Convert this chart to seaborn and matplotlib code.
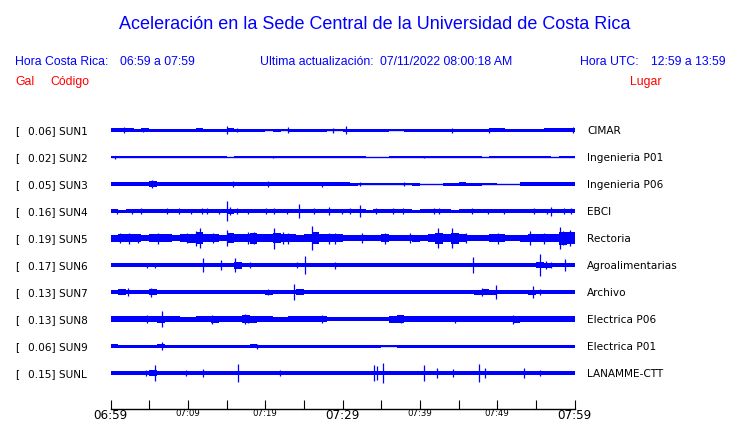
import numpy as np
import pandas as pd
import matplotlib
matplotlib.use("Agg")
import matplotlib.pyplot as plt
import seaborn as sns

# ---------------- data ----------------
codes = ["SUN1", "SUN2", "SUN3", "SUN4", "SUN5", "SUN6", "SUN7", "SUN8", "SUN9", "SUNL"]
gals = [0.06, 0.02, 0.05, 0.16, 0.19, 0.17, 0.13, 0.13, 0.06, 0.15]
places = ["CIMAR", "Ingenieria P01", "Ingenieria P06", "EBCI", "Rectoria",
          "Agroalimentarias", "Archivo", "Electrica P06", "Electrica P01", "LANAMME-CTT"]
tick_minutes = [0, 5, 10, 15, 20, 25, 30, 35, 40, 45, 50, 55, 60]
tick_labels = ["06:59", "", "07:09", "", "07:19", "", "07:29", "", "07:39", "", "07:49", "", "07:59"]
big_labels = ["06:59", "07:29", "07:59"]

# per-minute half amplitude of each trace envelope (screen px)
env_sun1 = [2.0,2.0,1.6,1.5,1.6,1.5,1.5,1.5,1.5,1.5, 1.5,1.6,1.5,1.5,1.5,1.6,1.5,1.5,1.5,1.5,
            1.4,1.5,1.2,1.5,1.5,1.5,1.5,1.5,1.3,1.3, 1.5,1.5,1.5,1.5,1.5,1.5,1.4,1.4,1.5,1.5,
            1.5,1.5,1.5,1.5,1.5,1.5,1.5,1.5,1.5,1.6, 1.6,1.5,1.5,1.5,1.5,1.5,1.6,1.6,1.7,1.8]
env_sun2 = [1.2,1.1,1.2,1.1,1.2,1.2,1.1,1.2,1.1,1.2, 1.1,1.2,1.2,1.1,1.2,0.0,1.2,1.1,1.2,1.1,
            1.2,1.1,1.1,1.2,1.1,1.2,1.2,1.2,1.1,1.2, 1.2,1.1,0.6,0.0,0.0,0.3,1.2,1.1,1.2,1.2,
            1.1,1.2,1.2,1.2,1.2,1.1,1.1,1.1,0.0,1.1, 1.2,1.1,1.2,1.2,1.1,1.2,1.1,0.0,0.6,1.1]
env_sun3 = [1.8,1.6,1.8,1.8,2.4,2.6,1.7,1.6,1.6,2.0, 2.0,1.8,1.7,1.8,1.8,2.0,2.0,1.8,1.6,1.7,
            2.2,1.8,1.7,1.6,1.8,1.8,1.9,2.0,1.9,1.8, 1.6,1.5,1.3,1.1,1.1,1.2,1.2,1.2,1.3,1.5,
            0.0,0.0,0.0,1.5,1.5,1.6,1.5,1.5,1.4,1.3, 0.0,0.0,0.0,1.6,1.8,1.8,1.7,1.6,1.7,1.7]
env_sun4 = [1.6,1.5,2.0,2.2,2.0,1.6,1.6,2.3,2.2,2.2, 2.0,2.0,2.0,1.8,2.2,2.5,2.2,2.0,1.6,1.6,
            2.2,2.2,1.8,1.6,2.0,1.7,2.2,1.6,2.2,1.8, 1.8,1.6,2.2,1.5,1.8,1.6,2.0,2.0,1.6,1.5,
            1.6,2.4,2.2,1.6,1.5,1.6,1.8,1.6,1.7,1.6, 1.7,1.8,1.6,1.7,1.8,1.6,2.0,1.7,2.0,2.0]
env_sun5 = [3.5,3.6,4.2,3.6,3.4,3.6,4.2,3.8,3.4,3.6, 4.5,6.0,4.2,3.6,3.4,5.0,3.6,4.4,5.5,4.4,
            3.6,5.0,4.2,3.8,3.5,3.6,6.0,4.0,4.0,3.8, 3.4,3.4,3.2,3.3,3.4,3.8,3.4,3.2,3.3,3.5,
            3.4,3.6,5.5,3.6,5.5,3.6,3.4,3.3,3.4,3.6, 3.8,3.4,3.3,3.5,4.2,3.6,3.8,3.6,6.5,6.0]
env_sun6 = [2.0,1.8,1.8,1.7,2.0,2.0,1.7,1.7,1.7,1.8, 1.7,1.7,2.2,1.8,1.7,1.8,3.5,2.2,1.8,1.7,
            1.8,1.8,2.0,2.0,2.2,2.0,1.7,2.2,2.3,2.2, 1.7,1.8,1.7,1.8,1.7,1.7,1.6,1.6,1.7,2.0,
            2.2,2.3,2.2,2.0,1.7,1.7,1.8,1.7,1.8,1.7, 1.8,1.7,1.7,1.8,1.8,2.8,2.5,2.0,1.8,1.8]
env_sun7 = [2.3,2.6,2.4,2.2,2.4,2.8,2.4,2.2,2.2,2.2, 2.2,2.2,2.0,2.0,2.2,2.2,2.2,2.0,2.0,2.2,
            2.5,2.2,2.0,2.4,2.8,2.2,2.0,2.0,2.2,2.0, 2.0,2.0,2.0,2.0,1.8,1.8,1.8,1.8,2.0,1.8,
            1.8,2.0,2.2,2.0,2.0,2.0,2.2,2.5,2.8,2.5, 2.2,2.0,2.0,2.2,2.5,2.4,2.2,2.0,2.2,2.2]
env_sun8 = [2.7,2.7,2.6,2.8,3.2,3.4,3.5,3.2,2.6,2.5, 2.5,2.6,3.0,3.5,2.6,2.6,2.8,3.6,3.5,2.8,
            2.6,2.5,2.5,2.6,2.8,3.0,3.0,3.2,2.4,2.3, 2.3,2.2,2.2,2.3,2.2,2.4,3.5,3.6,3.4,3.3,
            3.0,3.0,3.0,3.2,3.2,3.0,3.0,2.8,2.6,2.6, 2.7,2.8,3.5,3.2,3.0,2.8,3.0,3.0,3.2,3.0]
env_sun9 = [1.7,1.5,1.5,1.5,1.5,1.5,1.6,1.5,1.5,1.5, 1.5,1.5,1.5,1.5,1.5,1.5,1.5,1.5,1.6,1.5,
            1.5,1.5,1.5,1.5,1.5,1.5,1.5,1.5,1.5,1.5, 1.5,1.5,1.5,1.5,1.5,1.0,1.2,1.5,1.5,1.5,
            1.5,1.5,1.5,1.5,1.5,1.5,1.5,1.5,1.5,1.5, 1.5,1.5,1.5,1.5,1.5,1.5,1.5,1.5,1.5,1.5]
env_sunl = [1.8,1.8,1.8,1.8,2.3,2.5,2.3,2.0,2.0,2.2, 2.0,2.3,1.8,1.8,1.8,1.9,2.4,2.2,1.8,1.8,
            1.8,2.0,1.8,1.8,1.8,1.8,1.8,1.8,1.8,1.9, 1.8,1.8,1.8,2.0,2.2,2.2,1.8,1.8,1.6,1.6,
            2.2,2.4,2.2,1.8,2.3,2.2,1.8,1.8,2.2,1.8, 1.8,1.8,2.2,2.3,1.8,1.8,1.7,1.8,1.8,1.8]

# spikes: minute after 06:59 and half amplitude (screen px)
spk_t_sun1 = [1.7, 4.2, 15.1, 16.4, 22.9, 28.8, 30.5, 44.2, 48.9, 59.8]
spk_a_sun1 = [3.0, 2.3, 4.0, 2.0, 3.0, 2.5, 4.0, 2.5, 2.5, 3.0]
spk_t_sun2 = [0.6, 21.0, 40.5]
spk_a_sun2 = [1.5, 1.4, 1.4]
spk_t_sun3 = [5.4, 15.9, 20.4, 27.3, 32.2, 38.0]
spk_a_sun3 = [3.7, 3.0, 2.8, 2.5, 2.0, 2.0]
spk_t_sun4 = [0.9, 2.8, 3.9, 7.3, 8.8, 10.4, 11.8, 12.5, 14.0, 15.0, 15.5, 16.3, 17.8, 20.1, 21.2,
              22.8, 24.4, 26.3, 28.3, 29.9, 31.0, 32.3, 34.3, 36.5, 37.8, 41.8, 42.5, 46.7, 48.8,
              50.9, 54.8, 56.4, 56.9, 58.7, 59.5]
spk_a_sun4 = [2.5, 2.5, 3.0, 3.2, 2.8, 2.5, 2.8, 2.6, 2.5, 10.0, 4.0, 2.6, 2.5, 3.2, 2.8,
              2.5, 7.0, 3.2, 4.0, 2.5, 3.2, 6.0, 3.0, 2.6, 2.6, 3.0, 2.8, 2.6, 2.5,
              2.5, 3.0, 2.5, 4.5, 2.6, 2.8]
spk_t_sun5 = [1.2, 2.4, 3.5, 6.2, 9.9, 11.0, 11.6, 13.2, 15.1, 17.8, 18.5, 21.1, 22.3, 23.0, 26.1,
              28.2, 29.0, 32.5, 35.5, 38.7, 42.4, 44.1, 46.0, 50.1, 54.2, 56.0, 58.1, 58.5, 59.4]
spk_a_sun5 = [5.0, 5.5, 4.5, 5.5, 5.0, 7.5, 10.0, 5.0, 8.0, 6.0, 6.0, 10.5, 6.0, 5.5, 12.0,
              5.5, 5.5, 4.8, 5.5, 5.0, 10.0, 10.0, 5.0, 5.5, 7.0, 5.5, 11.0, 7.0, 8.0]
spk_t_sun6 = [4.7, 5.7, 12.0, 14.3, 16.1, 18.1, 24.1, 25.1, 29.0, 46.9, 55.5, 56.3, 57.0, 58.8]
spk_a_sun6 = [2.5, 2.5, 7.3, 5.0, 7.0, 2.6, 3.0, 8.7, 3.5, 8.0, 11.0, 4.0, 3.0, 6.3]
spk_t_sun7 = [2.2, 5.2, 20.4, 23.7, 48.1, 49.9, 54.6, 55.5]
spk_a_sun7 = [4.0, 4.5, 3.0, 8.3, 4.0, 7.0, 6.3, 3.0]
spk_t_sun8 = [4.7, 6.7, 13.1, 17.4, 17.8, 27.3, 37.5, 44.5, 52.0]
spk_a_sun8 = [4.0, 8.0, 4.5, 5.0, 4.2, 4.0, 4.0, 3.5, 4.5]
spk_t_sun9 = [6.7, 18.9]
spk_a_sun9 = [3.8, 2.5]
spk_t_sunl = [4.6, 5.8, 9.7, 11.9, 16.5, 21.9, 34.1, 34.5, 35.3, 40.6, 42.2, 44.3, 47.7, 48.4, 53.5, 55.6]
spk_a_sunl = [3.0, 7.7, 3.0, 4.0, 8.7, 3.0, 8.0, 7.0, 10.0, 8.0, 5.0, 4.0, 8.7, 5.0, 5.0, 3.0]

envelopes = [env_sun1, env_sun2, env_sun3, env_sun4, env_sun5, env_sun6, env_sun7, env_sun8, env_sun9, env_sunl]
spikes_t = [spk_t_sun1, spk_t_sun2, spk_t_sun3, spk_t_sun4, spk_t_sun5, spk_t_sun6, spk_t_sun7, spk_t_sun8, spk_t_sun9, spk_t_sunl]
spikes_a = [spk_a_sun1, spk_a_sun2, spk_a_sun3, spk_a_sun4, spk_a_sun5, spk_a_sun6, spk_a_sun7, spk_a_sun8, spk_a_sun9, spk_a_sunl]

# ---------------- figure ----------------
sns.set_style("white")
plt.rcParams["font.family"] = ["DejaVu Sans"]

W, H = 740, 423
fig = plt.figure(figsize=(W / 100, H / 100), dpi=100)

SPACING = 27.0  # px between traces
x0_px, x1_px = 110.5, 574.5
top_px, bot_px = 115.0, 408.5
ax = fig.add_axes([x0_px / W, 1 - bot_px / H, (x1_px - x0_px) / W, (bot_px - top_px) / H])
ax.set_xlim(0, 60)
first_c = 130.0
ax.set_ylim((bot_px - first_c) / SPACING, (top_px - first_c) / SPACING)

BLUE = "#0000ff"
edges = np.arange(61)
rows = []
for i, (env, st, sa) in enumerate(zip(envelopes, spikes_t, spikes_a)):
    amp = np.array(env + [env[-1]]) / SPACING
    ax.fill_between(edges, i - amp, i + amp, step="post", color=BLUE, lw=0)
    a = np.array(sa) / SPACING
    ax.vlines(st, i - a, i + a, color=BLUE, lw=0.9)
    rows.append(pd.DataFrame({"minute": [0, 60], "y": [i, i], "code": codes[i]}))
center = pd.concat(rows)
sns.lineplot(data=center, x="minute", y="y", units="code", estimator=None,
             color=BLUE, lw=1.0, ax=ax, legend=False)

for side in ["top", "left", "right"]:
    ax.spines[side].set_visible(False)
ax.spines["bottom"].set_color("black")
ax.spines["bottom"].set_linewidth(1.0)
ax.set_yticks([])
ax.set_xlabel("")
ax.set_ylabel("")
ax.set_xticks(tick_minutes)
ax.set_xticklabels(tick_labels)
ax.tick_params(axis="x", bottom=True, direction="in", length=6.2, width=0.8,
               color="black", pad=0.5)
for lab in ax.get_xticklabels():
    if lab.get_text() in big_labels:
        lab.set_fontsize(8.6)
    else:
        lab.set_fontsize(6.2)
    lab.set_color("black")

# ---------------- texts ----------------
def ftext(x, y, s, **kw):
    fig.text(x / W, 1 - y / H, s, **kw)

hdr = dict(family=["Liberation Sans", "DejaVu Sans"], color=BLUE)
HS = 8.8
ftext(375, 29.3, "Aceleración en la Sede Central de la Universidad de Costa Rica",
      ha="center", va="baseline", fontsize=13.0, **hdr)
ftext(15, 65, "Hora Costa Rica:", ha="left", va="baseline", fontsize=HS, **hdr)
ftext(120, 65, "06:59 a 07:59", ha="left", va="baseline", fontsize=HS, **hdr)
ftext(260, 65, "Ultima actualización:", ha="left", va="baseline", fontsize=HS, **hdr)
ftext(380.5, 65, "07/11/2022 08:00:18 AM", ha="left", va="baseline", fontsize=HS, **hdr)
ftext(580.5, 65, "Hora UTC:", ha="left", va="baseline", fontsize=HS, **hdr)
ftext(651, 65, "12:59 a 13:59", ha="left", va="baseline", fontsize=HS, **hdr)
red = dict(family=["Liberation Sans", "DejaVu Sans"], color="red", fontsize=HS)
ftext(15, 85, "Gal", ha="left", va="baseline", **red)
ftext(50.5, 85, "Código", ha="left", va="baseline", **red)
ftext(630, 85, "Lugar", ha="left", va="baseline", **red)

for i in range(len(codes)):
    yb = first_c + SPACING * i + 4.0
    ftext(15, yb, "[", ha="left", va="baseline", fontsize=7.6, color="black")
    ftext(27.5, yb, f"{gals[i]:.2f}] {codes[i]}", ha="left", va="baseline", fontsize=7.6, color="black")
    ftext(587, yb, places[i], ha="left", va="baseline", fontsize=7.6, color="black")

fig.savefig("out.png", dpi=100, facecolor="white")
